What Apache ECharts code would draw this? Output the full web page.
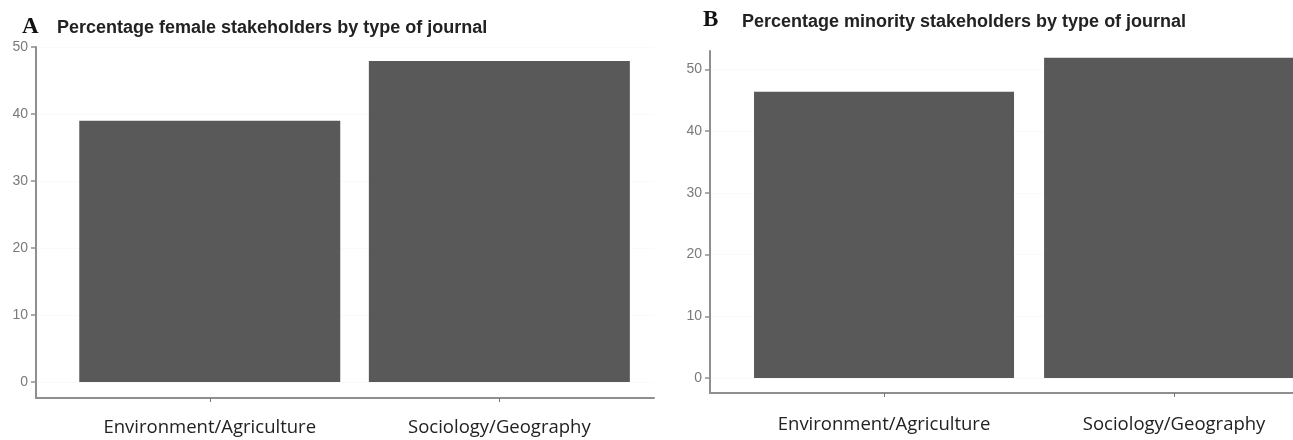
<!DOCTYPE html>
<html>
<head>
<meta charset="utf-8">
<script src="https://cdn.jsdelivr.net/npm/echarts@6/dist/echarts.min.js"></script>
<style>
html,body{margin:0;padding:0;background:#fff;}
#chart{width:1293px;height:440px;}
</style>
</head>
<body>
<div id="chart"></div>
<script>
const categories = ['Environment/Agriculture', 'Sociology/Geography'];
const femaleValues = [39.0, 47.9];
const minorityValues = [46.4, 51.9];
const yTicksA = [0, 10, 20, 30, 40, 50];
const yTicksB = [0, 10, 20, 30, 40, 50];
const panelLetters = ['A', 'B'];
const panelTitles = ['Percentage female stakeholders by type of journal', 'Percentage minority stakeholders by type of journal'];

const catPos = categories.map((c, i) => i + 1);
const axisGray = '#8f8f8f';

function xAxisFor(gridIndex, max, margin) {
  return {
    type: 'value', gridIndex: gridIndex, min: 0.4, max: max,
    axisLine: { show: true, onZero: false, lineStyle: { color: axisGray, width: 2 } },
    axisTick: { show: true, customValues: catPos, length: 4, lineStyle: { color: '#777', width: 1 } },
    axisLabel: {
      customValues: catPos, margin: margin,
      formatter: v => categories[Math.round(v) - 1] || '',
      fontFamily: 'Open Sans', fontSize: 18.5, color: '#222'
    },
    splitLine: { show: false }
  };
}
function yAxisFor(gridIndex, min, max, ticks) {
  return {
    type: 'value', gridIndex: gridIndex, min: min, max: max,
    axisLine: { show: true, onZero: false, lineStyle: { color: axisGray, width: 2 } },
    axisTick: { show: true, customValues: ticks, length: 5, lineStyle: { color: axisGray, width: 1.5 } },
    axisLabel: { customValues: ticks, margin: 8, fontFamily: 'Liberation Sans', fontSize: 14, color: '#7a7a7a' },
    splitLine: { show: true, lineStyle: { color: '#fafafa', width: 1 } }
  };
}

const chart = echarts.init(document.getElementById('chart'), null, { renderer: 'canvas' });
chart.setOption({
  animation: false,
  backgroundColor: '#ffffff',
  title: [
    { text: panelLetters[0], left: 22, top: 16, padding: 0, textStyle: { fontFamily: 'Liberation Serif', fontWeight: 'bold', fontSize: 23, color: '#111' } },
    { text: panelTitles[0], left: 57, top: 19, padding: 0, textStyle: { fontFamily: 'Liberation Sans', fontWeight: 'bold', fontSize: 18, color: '#222' } },
    { text: panelLetters[1], left: 703, top: 9, padding: 0, textStyle: { fontFamily: 'Liberation Serif', fontWeight: 'bold', fontSize: 23, color: '#111' } },
    { text: panelTitles[1], left: 742, top: 13, padding: 0, textStyle: { fontFamily: 'Liberation Sans', fontWeight: 'bold', fontSize: 18, color: '#222' } }
  ],
  grid: [
    { left: 36, top: 47, width: 618, height: 351, containLabel: false },
    { left: 710, top: 51, width: 583, height: 342, containLabel: false }
  ],
  xAxis: [xAxisFor(0, 2.534, 20), xAxisFor(1, 2.41, 22)],
  yAxis: [yAxisFor(0, -2.39, 50, yTicksA), yAxisFor(1, -2.43, 53.0, yTicksB)],
  series: [
    { type: 'bar', xAxisIndex: 0, yAxisIndex: 0, barWidth: 261,
      itemStyle: { color: '#595959' },
      data: femaleValues.map((v, i) => [catPos[i], v]) },
    { type: 'bar', xAxisIndex: 1, yAxisIndex: 1, barWidth: 260,
      itemStyle: { color: '#595959' },
      data: minorityValues.map((v, i) => [catPos[i], v]) }
  ]
});
</script>
</body>
</html>
